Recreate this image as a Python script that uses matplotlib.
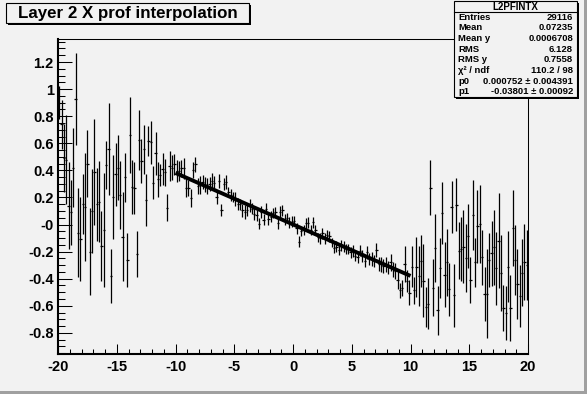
import numpy as np
import matplotlib
matplotlib.use('Agg')
import matplotlib.pyplot as plt
from matplotlib.patches import Rectangle

plt.rcParams['font.family'] = ['Liberation Sans', 'DejaVu Sans']
plt.rcParams['font.weight'] = 'bold'

# profile histogram L2PFINTX: 200 bins from -20 to 20
x_lo, x_hi, n_bins = -20.0, 20.0, 200

means = [
    0.90, 0.74, 0.49, 0.48, 0.14, 0.09, 0.42, 0.93, -0.06, -0.11,
    0.15, 0.13, 0.45, -0.20, 0.10, 0.39, 0.15, 0.17, -0.16, -0.04,
    0.44, 0.56, -0.38, 0.20, 0.37, 0.42, 0.22, -0.09, 0.35, -0.26,
    0.66, 0.28, 0.27, -0.22,
    0.625, 0.47, 0.555, 0.18, 0.617, 0.607, 0.31, 0.525, 0.335, 0.364,
    0.409, 0.387, 0.124, 0.434, 0.421, 0.444, 0.394, 0.394, 0.414, 0.414,
    0.27, 0.27, 0.196, 0.40, 0.446, 0.285, 0.29, 0.315, 0.295, 0.283,
    0.30, 0.322, 0.305,
    0.203, 0.32, 0.109, 0.30, 0.315, 0.24, 0.216, 0.203, 0.19, 0.154,
    0.149, 0.104, 0.092, 0.104, 0.141, 0.117, 0.079, 0.067, 0.005, 0.092,
    0.035, 0.117, 0.042, 0.059, 0.084, 0.092, 0.01, 0.092, 0.104, 0.035,
    0.05, 0.017, 0.02,
    0.025, -0.027, -0.126, -0.05, -0.04, 0.01, 0.012, -0.04, 0.017, -0.04,
    -0.094, -0.101, -0.064, -0.101, -0.077, -0.087, -0.131, -0.173, -0.164, -0.188,
    -0.156, -0.164, -0.181, -0.181, -0.206, -0.198, -0.23, -0.238, -0.193, -0.23,
    -0.268, -0.206,
    -0.255, -0.255, -0.268, -0.188, -0.292, -0.292, -0.305, -0.292, -0.317, -0.28,
    -0.33, -0.342, -0.411, -0.486, -0.466, -0.292, -0.416, -0.503, -0.312, -0.486,
    -0.312, -0.379, -0.268, -0.416, -0.61, -0.585, 0.273, -0.466, -0.173, -0.634,
    -0.322, 0.087, -0.372, -0.28,
    -0.478, 0.129, -0.523, 0.146, -0.193, -0.181, -0.164, -0.248, -0.087, -0.411,
    0.072, -0.28, -0.012, 0.005, -0.243, -0.515, -0.51, -0.26, -0.211, -0.169,
    -0.322, -0.119, -0.359, -0.615, -0.652, -0.31, -0.615, -0.025, -0.262, -0.441,
    -0.528, -0.355, -0.275, -0.297,
]

errs = [
    0.12, 0.18, 0.25, 0.33, 0.32, 0.24, 0.29, 0.34, 0.33, 0.31,
    0.22, 0.40, 0.25, 0.32, 0.31, 0.39, 0.27, 0.30, 0.26, 0.42,
    0.18, 0.34, 0.20, 0.31, 0.23, 0.24, 0.25, 0.33, 0.18, 0.20,
    0.28, 0.20, 0.19, 0.17,
    0.22, 0.16, 0.18, 0.19, 0.11, 0.16, 0.12, 0.16, 0.13, 0.08,
    0.12, 0.10, 0.10, 0.11, 0.09, 0.08, 0.08, 0.075, 0.06, 0.075,
    0.07, 0.06, 0.065, 0.06, 0.055, 0.06, 0.065, 0.05, 0.055, 0.06,
    0.05, 0.055, 0.05,
    0.05, 0.05, 0.045, 0.045, 0.05, 0.04, 0.045, 0.04, 0.05, 0.045,
    0.04, 0.045, 0.05, 0.04, 0.045, 0.04, 0.045, 0.04, 0.04, 0.045,
    0.04, 0.04, 0.045, 0.04, 0.035, 0.04, 0.04, 0.045, 0.04, 0.04,
    0.035, 0.04, 0.04,
    0.035, 0.04, 0.04, 0.035, 0.04, 0.04, 0.04, 0.035, 0.04, 0.04,
    0.035, 0.04, 0.04, 0.04, 0.035, 0.04, 0.035, 0.04, 0.04, 0.035,
    0.04, 0.04, 0.035, 0.04, 0.04, 0.045, 0.04, 0.045, 0.04, 0.045,
    0.045, 0.05,
    0.045, 0.05, 0.045, 0.05, 0.05, 0.055, 0.05, 0.055, 0.05, 0.06,
    0.055, 0.06, 0.065, 0.056, 0.06, 0.13, 0.08, 0.09, 0.15, 0.10,
    0.22, 0.22, 0.19, 0.27, 0.15, 0.19, 0.20, 0.21, 0.25, 0.18,
    0.22, 0.23, 0.24, 0.25,
    0.196, 0.19, 0.23, 0.195, 0.21, 0.235, 0.27, 0.25, 0.235, 0.17,
    0.26, 0.18, 0.27, 0.29, 0.20, 0.20, 0.33, 0.20, 0.24, 0.28,
    0.27, 0.35, 0.28, 0.17, 0.20, 0.26, 0.245, 0.28, 0.26, 0.26,
    0.23, 0.25, 0.28, 0.26,
]

# linear fit pol1 over [-10, 10]
p0, p1 = 0.000752, -0.03801
fit_lo, fit_hi = -10.0, 10.0

stats_title = 'L2PFINTX'
stats_labels = ['Entries', 'Mean', 'Mean y', 'RMS', 'RMS y', '\u03c7\u00b2 / ndf', 'p0', 'p1']
stats_values = ['29116', '0.07235', '0.0006708', '6.128', '0.7558', '110.2 / 98',
                '0.000752 \u00b1 0.004391', '-0.03801 \u00b1 0.00092']

xticks = [-20, -15, -10, -5, 0, 5, 10, 15, 20]
yticks = [-0.8, -0.6, -0.4, -0.2, 0.0, 0.2, 0.4, 0.6, 0.8, 1.0, 1.2]
ytick_labels = ['-0.8', '-0.6', '-0.4', '-0.2', '-0', '0.2', '0.4', '0.6', '0.8', '1', '1.2']

bg = '#f2f2f2'
W, H = 587, 394

edges = np.linspace(x_lo, x_hi, n_bins + 1)
centers = 0.5 * (edges[:-1] + edges[1:])
halfw = 0.5 * (edges[1] - edges[0])

fig = plt.figure(figsize=(W / 100, H / 100), dpi=100, facecolor=bg)
ax = fig.add_axes([58 / W, 40 / H, 470 / W, 315 / H], facecolor=bg)

ax.errorbar(centers, means, yerr=errs, xerr=halfw, fmt='none',
            ecolor='black', elinewidth=0.9, capsize=0)

xf = np.linspace(fit_lo, fit_hi, 50)
ax.plot(xf, p0 + p1 * xf, color='black', lw=2.8, solid_capstyle='butt')

ax.set_xlim(x_lo, x_hi)
ax.set_ylim(-0.956, 1.37)
ax.set_xticks(xticks)
ax.set_xticklabels([str(t) for t in xticks])
ax.set_yticks(yticks)
ax.set_yticklabels(ytick_labels)
ax.set_xticks(np.arange(-20, 21, 1), minor=True)
ax.set_yticks(np.arange(-0.95, 1.37, 0.05), minor=True)
ax.tick_params(axis='both', which='both', direction='in', width=0.75,
               labelsize=10.5, colors='black')
ax.tick_params(axis='y', which='major', length=10, pad=3)
ax.tick_params(axis='y', which='minor', length=5)
ax.tick_params(axis='x', which='major', length=7, pad=4)
ax.tick_params(axis='x', which='minor', length=3.6)
for s in ['top', 'right']:
    ax.spines[s].set_linewidth(0.75)
for s in ['left', 'bottom']:
    ax.spines[s].set_linewidth(1.5)
for lab in ax.get_xticklabels() + ax.get_yticklabels():
    lab.set_fontweight('bold')

# overlay in pixel coordinates for the boxes
ov = fig.add_axes([0, 0, 1, 1])
ov.set_xlim(0, W)
ov.set_ylim(H, 0)
ov.axis('off')
ov.patch.set_alpha(0)

# canvas bevel
ov.add_patch(Rectangle((0, H - 3), W, 3, color='#a0a0a0', lw=0))
ov.add_patch(Rectangle((W - 3, 0), 3, H, color='#a0a0a0', lw=0))

# title box
ov.add_patch(Rectangle((8, 5), 243, 20, facecolor='black', lw=0))
ov.add_patch(Rectangle((6, 3), 243, 20, facecolor=bg, edgecolor='black', lw=0.8))
ov.text(18, 13.5, 'Layer 2 X prof interpolation', fontsize=12.2, fontweight='bold',
        ha='left', va='center')

# stats box
ov.add_patch(Rectangle((456, 3), 123, 96, facecolor='black', lw=0))
ov.add_patch(Rectangle((454, 1), 123, 96, facecolor=bg, edgecolor='black', lw=0.8))
ov.plot([454, 577], [11.5, 11.5], color='black', lw=0.8)
ov.text(515.5, 6.5, stats_title, fontsize=7, fontweight='bold', ha='center', va='center')
for i, (lab, val) in enumerate(zip(stats_labels, stats_values)):
    yy = 17 + 10.7 * i
    ov.text(458, yy, lab, fontsize=6.8, fontweight='bold', ha='left', va='center')
    ov.text(573, yy, val, fontsize=6.8, fontweight='bold', ha='right', va='center')

fig.savefig('out.png', dpi=100, facecolor=bg)
